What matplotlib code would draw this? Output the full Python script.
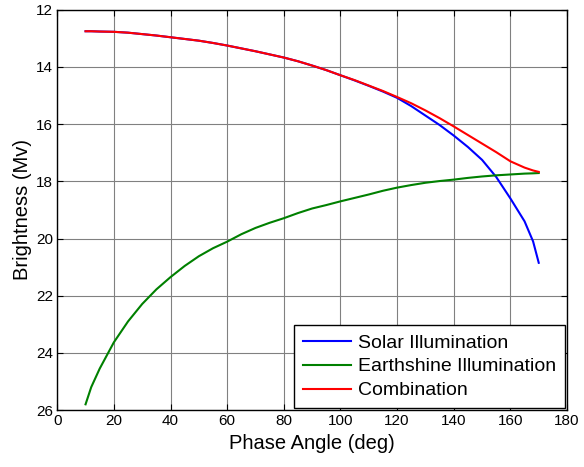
import numpy as np
import matplotlib.pyplot as plt

plt.rcParams['font.family'] = ['Liberation Sans', 'DejaVu Sans']

# Phase angle (deg) and brightness (Mv)
angle = [10, 12, 15, 20, 25, 30, 35, 40, 45, 50, 55, 60, 65, 70, 75, 80, 85, 90, 95,
         100, 105, 110, 115, 120, 125, 130, 135, 140, 145, 150, 155, 160, 165, 168, 170]
solar = [12.75, 12.75, 12.76, 12.77, 12.80, 12.85, 12.90, 12.96, 13.02, 13.08, 13.16, 13.25,
         13.35, 13.45, 13.56, 13.67, 13.80, 13.95, 14.11, 14.29, 14.47, 14.66, 14.86,
         15.08, 15.37, 15.70, 16.03, 16.40, 16.80, 17.25, 17.85, 18.60, 19.40, 20.10, 20.85]
earth = [25.80, 25.20, 24.55, 23.63, 22.90, 22.29, 21.78, 21.35, 20.96, 20.62, 20.34, 20.11,
         19.85, 19.63, 19.45, 19.29, 19.11, 18.95, 18.83, 18.70, 18.58, 18.46, 18.33,
         18.22, 18.13, 18.05, 17.99, 17.94, 17.88, 17.83, 17.79, 17.76, 17.73, 17.72, 17.71]
combo = [12.75, 12.75, 12.76, 12.77, 12.80, 12.85, 12.90, 12.96, 13.02, 13.08, 13.16, 13.25,
         13.35, 13.45, 13.56, 13.67, 13.80, 13.95, 14.11, 14.29, 14.46, 14.65, 14.84,
         15.05, 15.27, 15.52, 15.79, 16.08, 16.38, 16.68, 16.98, 17.30, 17.52, 17.62, 17.67]

fig = plt.figure(figsize=(5.84, 4.67), dpi=100)
ax = fig.add_axes([0.098, 0.122, 0.873, 0.857])

ax.plot(angle, solar, color='#0000ff', lw=1.5, label='Solar Illumination')
ax.plot(angle, earth, color='#008000', lw=1.5, label='Earthshine Illumination')
ax.plot(angle, combo, color='#ff0000', lw=1.5, label='Combination')

ax.set_xlim(0, 180)
ax.set_ylim(26, 12)
ax.set_xticks(np.arange(0, 181, 20))
ax.set_yticks(np.arange(12, 27, 2))
ax.grid(True, color='#808080', lw=0.8)
ax.tick_params(direction='in', top=True, right=True, labelsize=11, length=4, pad=3)
for s in ax.spines.values():
    s.set_linewidth(1.0)

ax.set_xlabel('Phase Angle (deg)', fontsize=14.5, labelpad=4)
ax.set_ylabel('Brightness (Mv)', fontsize=14.5, labelpad=3)

leg = ax.legend(loc='lower right', fontsize=14, fancybox=False, framealpha=1,
                edgecolor='black', borderaxespad=0.1, handlelength=2.5,
                handletextpad=0.35, labelspacing=0.32, borderpad=0.45)
leg.get_frame().set_linewidth(1.0)

fig.savefig('out.png', dpi=100)
